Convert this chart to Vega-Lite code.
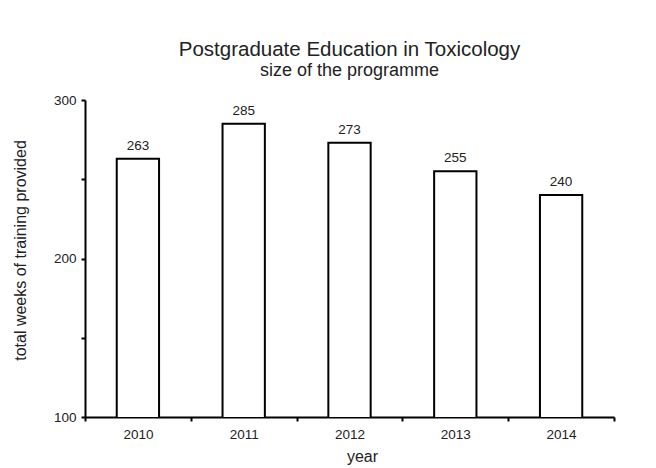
{
  "$schema": "https://vega.github.io/schema/vega-lite/v6.json",
  "width": 529,
  "height": 317,
  "autosize": {"type": "none"},
  "padding": {"left": 85, "top": 100, "right": 42, "bottom": 51},
  "background": "white",
  "config": {
    "font": "Liberation Sans",
    "view": {"stroke": null},
    "axis": {"domainColor": "black", "tickColor": "black", "labelColor": "#222", "titleColor": "#222", "labelFontSize": 13.5, "titleFontSize": 16, "titleFontWeight": "normal", "grid": false}
  },
  "title": {
    "text": "Postgraduate Education in Toxicology",
    "subtitle": "size of the programme",
    "fontSize": 20.5,
    "fontWeight": "normal",
    "color": "#222",
    "subtitleFontSize": 18,
    "subtitleColor": "#222",
    "subtitlePadding": 2,
    "offset": 13,
    "anchor": "middle",
    "frame": "group"
  },
  "data": {"values": [
    {"year": "2010", "weeks": 263},
    {"year": "2011", "weeks": 285},
    {"year": "2012", "weeks": 273},
    {"year": "2013", "weeks": 255},
    {"year": "2014", "weeks": 240}
  ]},
  "encoding": {
    "x": {"field": "year", "type": "ordinal", "scale": {"paddingInner": 0, "paddingOuter": 0},
      "axis": {"title": "year", "labelAngle": 0, "tickBand": "extent", "tickSize": 4, "tickWidth": 2, "domainWidth": 2, "labelPadding": 6, "titlePadding": 8, "titleX": 277}},
    "y": {"field": "weeks", "type": "quantitative", "scale": {"domain": [100, 300], "nice": false, "zero": false},
      "axis": {"title": "total weeks of training provided", "values": [100, 150, 200, 250, 300], "labelExpr": "datum.value % 100 === 0 ? datum.label : ''", "tickSize": 4, "tickWidth": 2, "domainWidth": 2, "labelPadding": 5, "titlePadding": 25, "titleY": 150}}
  },
  "layer": [
    {"mark": {"type": "bar", "fill": "white", "stroke": "black", "strokeWidth": 2, "width": {"band": 0.4}, "clip": true}},
    {"mark": {"type": "text", "baseline": "bottom", "dy": -6, "fontSize": 13.5, "color": "#222"},
      "encoding": {"text": {"field": "weeks", "type": "quantitative"}}}
  ]
}
